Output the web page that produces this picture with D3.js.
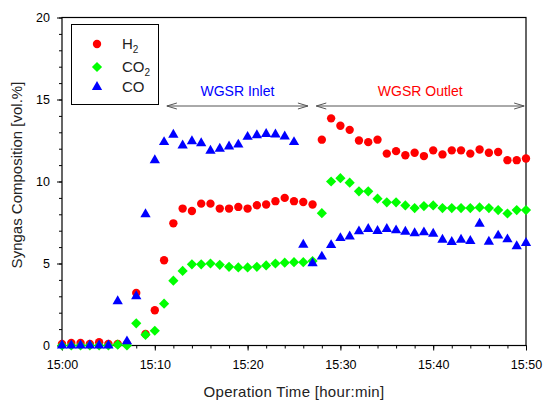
<!DOCTYPE html>
<html><head><meta charset="utf-8">
<script src="https://cdn.jsdelivr.net/npm/d3@7"></script>
<style>body{margin:0;background:#fff}svg{display:block}text{font-family:Arial,"Liberation Sans",sans-serif}</style>
</head><body><svg id="c" width="546" height="401"></svg>
<script>
const minutes = d3.range(0, 51);
const h2 = [0.1,0.15,0.15,0.1,0.2,0.1,0.1,0.1,3.2,0.7,2.15,5.2,7.45,8.35,8.2,8.65,8.65,8.35,8.35,8.45,8.35,8.55,8.6,8.8,9.0,8.8,8.75,8.6,12.55,13.85,13.4,13.15,12.5,12.4,12.55,11.7,11.85,11.6,11.75,11.55,11.9,11.65,11.9,11.9,11.7,11.95,11.75,11.8,11.3,11.3,11.4];
const co2 = [0,0,0,0,0,0,0.05,0,1.35,0.65,0.9,2.55,3.95,4.55,4.95,4.95,5.0,4.92,4.8,4.76,4.76,4.8,4.88,5.0,5.05,5.08,5.08,5.15,8.07,10.0,10.2,9.93,9.4,9.4,8.95,8.73,8.73,8.54,8.38,8.5,8.54,8.38,8.38,8.38,8.38,8.42,8.38,8.26,8.05,8.26,8.26];
const co = [0,0,0,0,0,0,2.7,0.25,3.0,8.0,11.3,12.4,12.85,12.2,12.45,12.33,11.88,12.0,12.13,12.25,12.72,12.82,12.9,12.87,12.75,12.4,6.14,5.02,5.42,6.12,6.55,6.65,6.96,7.1,6.98,7.1,7.02,6.94,6.84,6.9,6.82,6.45,6.31,6.45,6.37,7.42,6.33,6.7,6.47,6.05,6.25];
const xTickValues = [0,10,20,30,40,50];
const xTickLabels = ["15:00","15:10","15:20","15:30","15:40","15:50"];
const yTickValues = [0,5,10,15,20];
const seriesNames = ["H","CO","CO"];
const seriesSubs = ["2","2",""];
const annotations = [
  {label:"WGSR Inlet", from:11.3, to:26.5, color:"#0000ff"},
  {label:"WGSR Outlet", from:27.4, to:49.8, color:"#ff0000"}
];

const svg = d3.select("#c");
const x = d3.scaleLinear().domain([0,50]).range([62,526]);
const y = d3.scaleLinear().domain([0,20]).range([345.5,17.5]);

// frame
svg.append("rect").attr("x",62).attr("y",17.5).attr("width",464).attr("height",328)
  .attr("fill","none").attr("stroke","#000").attr("stroke-width",1.2);

// x axis
const gx = svg.append("g").attr("transform","translate(0,345.5)");
gx.call(d3.axisBottom(x).tickValues(d3.range(0,51,2)).tickSize(3).tickFormat(""))
  .call(g=>g.select(".domain").remove());
gx.append("g").call(d3.axisBottom(x).tickValues(xTickValues).tickSize(5).tickPadding(10)
  .tickFormat((d,i)=>xTickLabels[i])).call(g=>g.select(".domain").remove());
gx.selectAll("line").attr("stroke","#000");
gx.selectAll("text").attr("font-size","12.5px").attr("fill","#000").attr("font-family","Arial, Liberation Sans, sans-serif");

// y axis
const gy = svg.append("g").attr("transform","translate(62,0)");
gy.call(d3.axisLeft(y).tickValues(d3.range(0,21,1)).tickSize(3).tickFormat(""))
  .call(g=>g.select(".domain").remove());
gy.append("g").call(d3.axisLeft(y).tickValues(yTickValues).tickSize(5).tickPadding(7))
  .call(g=>g.select(".domain").remove());
gy.selectAll("line").attr("stroke","#000");
gy.selectAll("text").attr("font-size","12.5px").attr("fill","#000").attr("font-family","Arial, Liberation Sans, sans-serif");

// axis titles
svg.append("text").attr("x",294).attr("y",397).attr("text-anchor","middle")
  .attr("font-size","15px").attr("letter-spacing","0.3px").attr("fill","#222").text("Operation Time [hour:min]");
svg.append("text").attr("transform","translate(22,175) rotate(-90)").attr("text-anchor","middle")
  .attr("font-size","15px").attr("fill","#222").text("Syngas Composition [vol.%]");

// markers
const circ = d3.symbol().type(d3.symbolCircle).size(55);
const diam = d3.symbol().type(d3.symbolSquare).size(52);
const tri = d3.symbol().type(d3.symbolTriangle).size(46);
const series = [
  {vals:h2, sym:circ, color:"#ff0000", rot:0},
  {vals:co2, sym:diam, color:"#00ff00", rot:45},
  {vals:co, sym:tri, color:"#0000ff", rot:0}
];
series.forEach(s=>{
  svg.append("g").selectAll("path").data(minutes).join("path")
    .attr("d", s.sym())
    .attr("transform", d=>`translate(${x(d)},${y(s.vals[d])}) rotate(${s.rot})`)
    .attr("fill", s.color);
});

// annotations
annotations.forEach(a=>{
  const ay = 106, x1 = x(a.from), x2 = x(a.to);
  const g = svg.append("g").attr("stroke","#555").attr("fill","none").attr("stroke-width",1);
  g.append("line").attr("x1",x1).attr("x2",x2).attr("y1",ay).attr("y2",ay);
  g.append("path").attr("d",`M${x1+10},${ay-3}L${x1},${ay}L${x1+10},${ay+3}`);
  g.append("path").attr("d",`M${x2-10},${ay-3}L${x2},${ay}L${x2-10},${ay+3}`);
  svg.append("text").attr("x",(x1+x2)/2).attr("y",96).attr("text-anchor","middle")
    .attr("font-size","14px").attr("fill",a.color).text(a.label);
});

// legend
const lg = svg.append("g");
lg.append("rect").attr("x",71.5).attr("y",24.5).attr("width",87).attr("height",80)
  .attr("fill","#fff").attr("stroke","#000").attr("stroke-width",1);
const rows = [44,67,87];
series.forEach((s,i)=>{
  lg.append("path").attr("d",s.sym()).attr("fill",s.color)
    .attr("transform",`translate(97,${rows[i]}) rotate(${s.rot})`);
  const t = lg.append("text").attr("x",122).attr("y",rows[i]+5).attr("font-size","15px").attr("fill","#222");
  t.append("tspan").text(seriesNames[i]);
  if (seriesSubs[i]) t.append("tspan").attr("font-size","10px").attr("dy",4).text(seriesSubs[i]);
});
</script></body></html>
